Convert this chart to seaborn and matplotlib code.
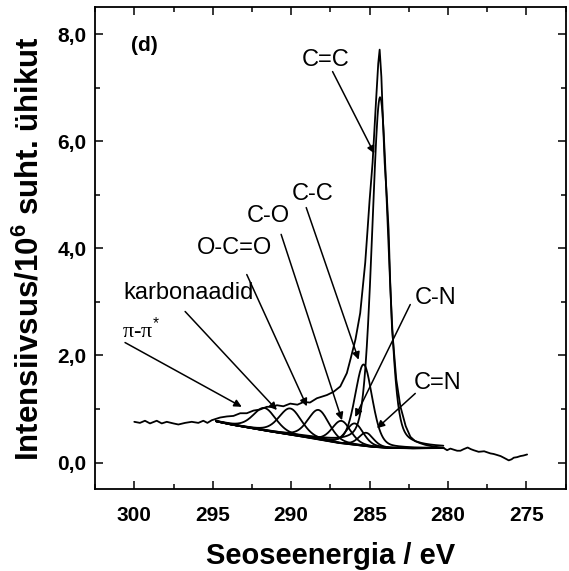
import numpy as np
import pandas as pd
import matplotlib
matplotlib.use("Agg")
import matplotlib.pyplot as plt
from matplotlib.ticker import MultipleLocator, FuncFormatter
import seaborn as sns

# ---------------- data ----------------
# measured spectrum (binding energy eV, intensity / 1e6)
raw_energy = [300.0, 299.64, 299.32, 299.0, 298.57, 298.25, 297.93, 297.51, 297.19, 296.76,
              296.34, 295.92, 295.6, 295.34, 295.06, 294.53, 294.1, 293.68, 293.25, 292.83,
              292.4, 291.98, 291.55, 291.13, 290.91, 290.5, 290.06, 289.6, 289.21, 288.8,
              288.36, 287.72, 287.3, 286.87, 286.45, 286.2, 285.9, 285.6, 285.28, 285.13,
              285.0, 284.81, 284.6, 284.45, 284.36, 284.25, 284.15, 284.04, 283.9, 283.79,
              283.68, 283.57, 283.3, 283.04, 282.7, 282.4, 282.1, 281.77, 281.45, 281.13,
              280.7, 280.28, 280.06, 279.85, 279.64, 279.42, 279.21, 279.0, 278.75, 278.55,
              278.37, 278.05, 277.7, 277.3, 277.1, 276.87, 276.65, 276.45, 276.13, 275.95,
              275.81, 275.6, 275.39, 275.2, 274.96]
raw_intensity = [0.76, 0.74, 0.78, 0.73, 0.78, 0.73, 0.76, 0.73, 0.71, 0.74,
                 0.76, 0.74, 0.78, 0.74, 0.79, 0.84, 0.86, 0.87, 0.92, 0.92,
                 0.97, 0.99, 1.04, 1.04, 1.07, 1.05, 1.10, 1.08, 1.13, 1.12,
                 1.20, 1.26, 1.32, 1.42, 1.67, 1.95, 2.30, 2.79, 3.73, 4.35,
                 4.90, 5.60, 6.70, 7.45, 7.71, 7.20, 6.40, 5.60, 4.95, 4.35,
                 3.30, 2.50, 1.55, 1.05, 0.68, 0.48, 0.40, 0.36, 0.33, 0.31,
                 0.29, 0.27, 0.23, 0.26, 0.24, 0.22, 0.22, 0.25, 0.28, 0.25,
                 0.23, 0.20, 0.21, 0.17, 0.16, 0.14, 0.12, 0.09, 0.04, 0.06,
                 0.09, 0.10, 0.12, 0.13, 0.15]

# background line (read points)
baseline_energy = [280.3, 282.0, 283.68, 284.75, 286.87, 289.0, 291.13, 293.68, 294.8]
baseline_intensity = [0.27, 0.265, 0.27, 0.29, 0.36, 0.47, 0.57, 0.70, 0.77]

# fitted components: centre, height above background, FWHM
comp_names = ["pi-pi*", "karbonaadid", "O-C=O", "C-O", "C-N", "C-C", "C=N", "C=C"]
comp_center = [291.7, 290.06, 288.26, 286.8, 285.95, 285.38, 285.22, 284.33]
comp_height = [0.42, 0.49, 0.55, 0.42, 0.40, 1.52, 0.25, 6.54]
comp_fwhm = [1.7, 1.7, 1.6, 1.4, 1.3, 1.3, 1.1, 1.22]
gl_mix = 0.3
fit_range = (280.3, 294.8)

# labels: text, text position, arrow tail, arrow tip
label_text = ["C=C", "C-C", "C-O", "O-C=O", "karbonaadid", "C-N", "C=N"]
label_xy = [(287.83, 7.51), (288.65, 5.01), (291.45, 4.61), (293.62, 4.01),
            (300.70, 3.17), (280.81, 3.07), (280.65, 1.49)]
arrow_from = [(287.36, 7.30), (289.04, 4.76), (290.64, 4.26), (292.83, 3.51),
              (296.76, 2.82), (282.41, 2.95), (282.09, 1.29)]
arrow_to = [(284.70, 5.77), (285.70, 1.92), (286.76, 0.79), (289.0, 1.05),
            (290.91, 0.98), (285.92, 0.85), (284.53, 0.64)]
pi_text_xy = (300.80, 2.48)
pi_arrow_from = (300.59, 2.24)
pi_arrow_to = (293.15, 1.04)

x_ticks = [300, 295, 290, 285, 280, 275]
y_ticks = [0, 2, 4, 6, 8]

# ---------------- style ----------------
sns.set_style("ticks")
plt.rcParams["font.family"] = ["Liberation Sans", "DejaVu Sans"]
plt.rcParams["mathtext.fontset"] = "custom"
plt.rcParams["mathtext.rm"] = "Liberation Sans"
plt.rcParams["mathtext.bf"] = "Liberation Sans:bold"
plt.rcParams["mathtext.it"] = "Liberation Sans:italic"
for key in ["text.color", "axes.labelcolor", "xtick.color", "ytick.color", "axes.edgecolor"]:
    plt.rcParams[key] = "black"

fig = plt.figure(figsize=(5.69, 5.71), dpi=100)
ax = fig.add_axes([0.1671, 0.1431, 0.8271, 0.8441])

lw = 1.3
sns.lineplot(x=raw_energy, y=raw_intensity, ax=ax, color="black", lw=lw, sort=False)

grid = np.arange(fit_range[0], fit_range[1] + 1e-9, 0.04)
bg = np.interp(grid, baseline_energy, baseline_intensity)
sns.lineplot(x=grid, y=bg, ax=ax, color="black", lw=lw, sort=False)


def glmix(x, c, h, w, m):
    g = np.exp(-4 * np.log(2) * ((x - c) / w) ** 2)
    l = 1.0 / (1 + 4 * ((x - c) / w) ** 2)
    return h * ((1 - m) * g + m * l)


for c, h, w in zip(comp_center, comp_height, comp_fwhm):
    yv = bg + glmix(grid, c, h, w, gl_mix)
    sns.lineplot(x=grid, y=yv, ax=ax, color="black", lw=lw, sort=False)

ax.set_xlim(302.5, 272.5)
ax.set_ylim(-0.5, 8.5)
ax.set_xticks(x_ticks)
ax.set_yticks(y_ticks)
ax.xaxis.set_minor_locator(MultipleLocator(2.5))
ax.yaxis.set_minor_locator(MultipleLocator(1))
ax.yaxis.set_major_formatter(FuncFormatter(lambda v, p: f"{v:.1f}".replace(".", ",")))
ax.xaxis.set_major_formatter(FuncFormatter(lambda v, p: f"{v:.0f}"))

ax.tick_params(which="both", direction="in", top=True, right=True, width=1.1,
               color="black", labelcolor="black")
ax.tick_params(which="major", length=6)
ax.tick_params(which="minor", length=3.5)
ax.tick_params(axis="x", which="major", pad=12)
ax.tick_params(axis="y", which="major", pad=6)
for lab in ax.get_xticklabels() + ax.get_yticklabels():
    lab.set_fontsize(15)
    lab.set_fontweight("bold")
for sp in ax.spines.values():
    sp.set_linewidth(1.3)
    sp.set_color("black")

ax.set_xlabel("Seoseenergia / eV", fontsize=21, fontweight="bold", labelpad=12, color="black")
ax.set_ylabel(r"Intensiivsus/10$^{\mathbf{6}}$ suht. ühikut", fontsize=22.5,
              fontweight="bold", labelpad=9, color="black")

ax.text(300.23, 7.79, "(d)", fontsize=15, fontweight="bold", ha="left", va="center",
        color="black")

arrow_kw = dict(arrowstyle="-|>", lw=1.1, color="black", mutation_scale=11,
                shrinkA=0, shrinkB=0)
for txt, xy, a0, a1 in zip(label_text, label_xy, arrow_from, arrow_to):
    if txt == "karbonaadid":
        ax.text(xy[0], xy[1], txt, fontsize=17, ha="left", va="center", color="black")
    else:
        ax.text(xy[0], xy[1], txt, fontsize=17, ha="center", va="center", color="black")
    ax.annotate("", xy=a1, xytext=a0, arrowprops=arrow_kw)

ax.text(pi_text_xy[0], pi_text_xy[1], "π-π$^{*}$", fontsize=16, ha="left", va="center",
        family=["Liberation Serif", "DejaVu Serif"], color="black")
ax.annotate("", xy=pi_arrow_to, xytext=pi_arrow_from, arrowprops=arrow_kw)

fig.savefig("out.png", dpi=100)
